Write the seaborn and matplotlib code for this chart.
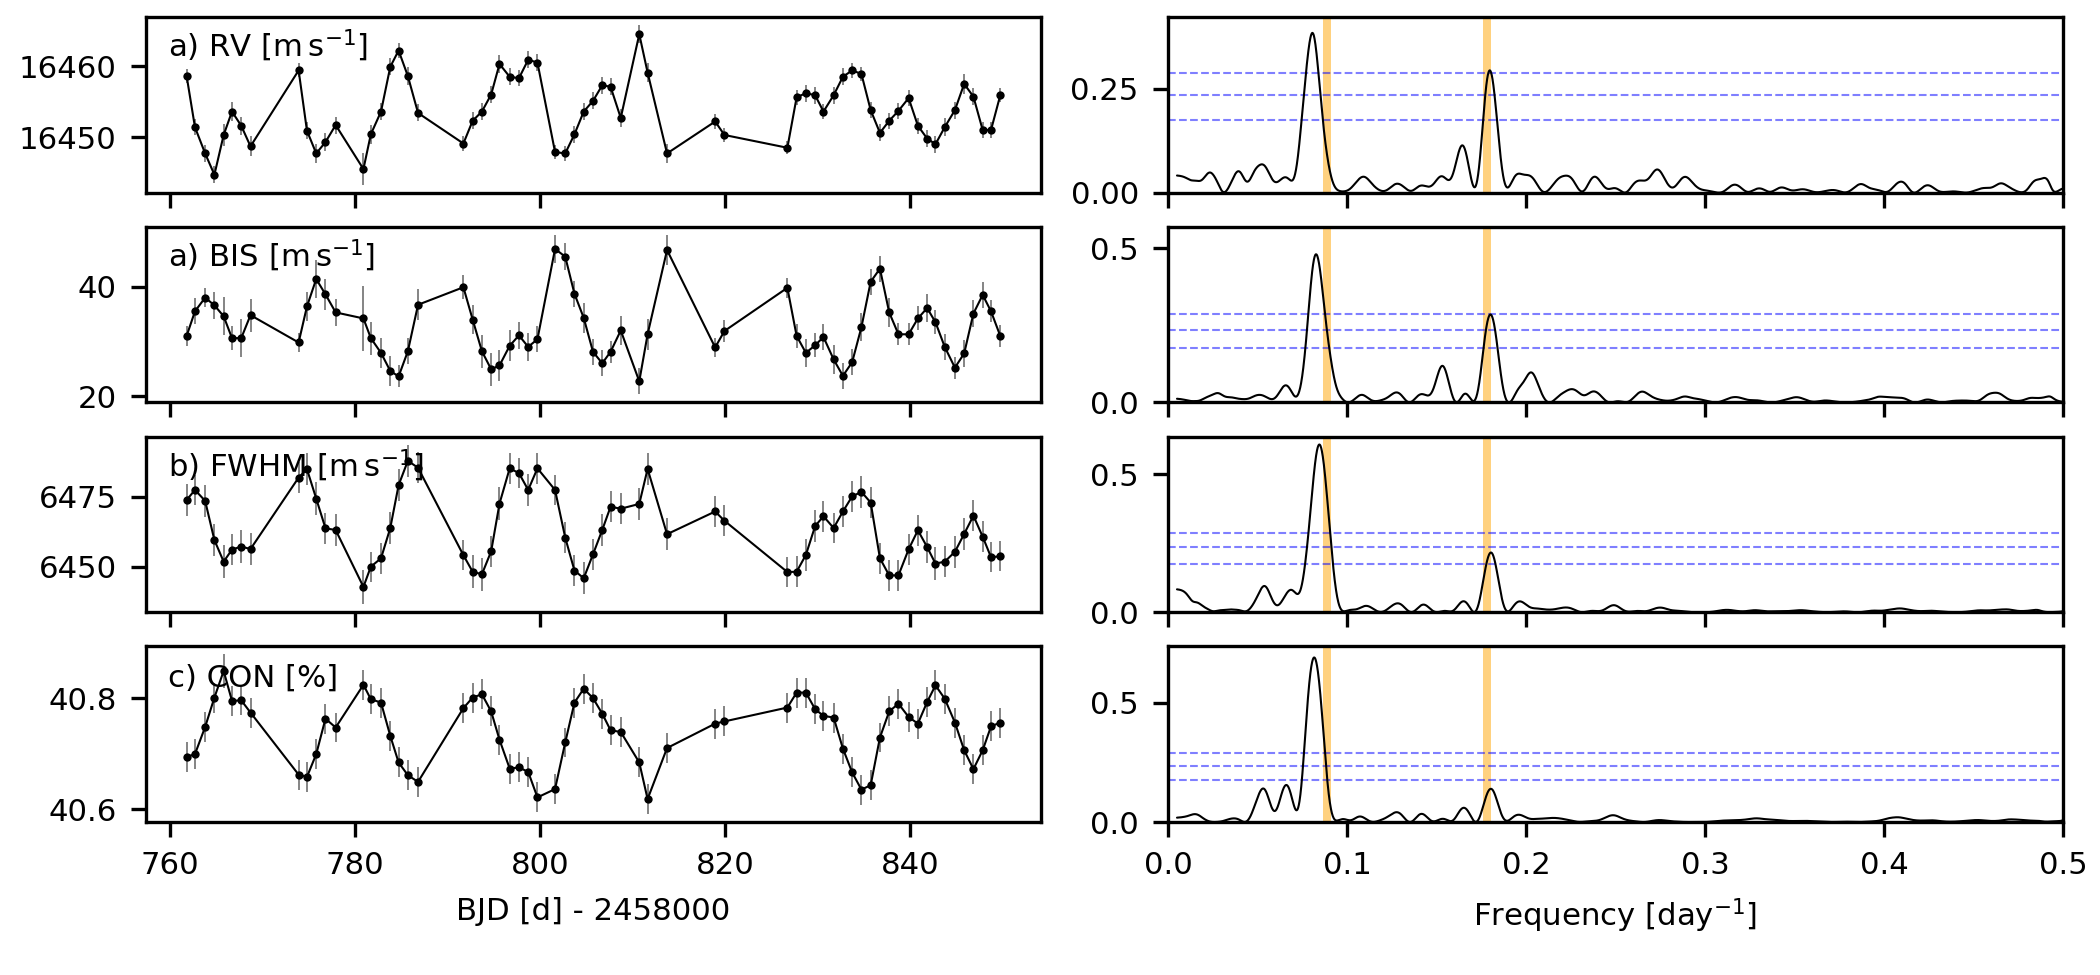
import numpy as np
import pandas as pd
import matplotlib
matplotlib.use("Agg")
import matplotlib.pyplot as plt
import seaborn as sns
from matplotlib.ticker import MultipleLocator

# ---------------- data ----------------
bjd = [761.8, 762.7, 763.8, 764.8, 765.8, 766.7, 767.7, 768.7, 773.9, 774.8,
       775.8, 776.8, 777.9, 780.9, 781.7, 782.8, 783.8, 784.7, 785.7, 786.8,
       791.7, 792.7, 793.7, 794.7, 795.6, 796.7, 797.7, 798.7, 799.7, 801.6,
       802.7, 803.7, 804.7, 805.7, 806.7, 807.6, 808.7, 810.7, 811.6, 813.7,
       818.9, 819.9, 826.7, 827.7, 828.7, 829.7, 830.6, 831.7, 832.7, 833.7,
       834.7, 835.7, 836.7, 837.7, 838.7, 839.8, 840.8, 841.8, 842.7, 843.7,
       844.8, 845.8, 846.8, 847.8, 848.7, 849.7]

rv = [16458.6, 16451.4, 16447.7, 16444.7, 16450.3, 16453.6, 16451.6, 16448.7, 16459.4, 16450.9,
      16447.7, 16449.3, 16451.7, 16445.5, 16450.4, 16453.6, 16459.9, 16462.2, 16458.6, 16453.4,
      16449.1, 16452.3, 16453.6, 16456.0, 16460.3, 16458.5, 16458.3, 16460.9, 16460.5, 16447.9,
      16447.7, 16450.4, 16453.6, 16455.1, 16457.3, 16457.1, 16452.7, 16464.5, 16459.1, 16447.7,
      16452.2, 16450.3, 16448.5, 16455.6, 16456.2, 16455.9, 16453.6, 16455.9, 16458.5, 16459.4,
      16458.9, 16453.8, 16450.6, 16452.3, 16453.7, 16455.5, 16451.6, 16449.8, 16449.0, 16451.4,
      16453.8, 16457.5, 16455.7, 16451.0, 16451.0, 16455.9]
rv_err = [1.0, 1.1, 1.2, 1.2, 1.5, 1.3, 1.3, 1.4, 1.0, 1.2,
          1.3, 1.3, 1.2, 2.2, 1.3, 1.2, 1.2, 1.1, 1.3, 1.2,
          1.0, 1.2, 1.2, 1.2, 1.3, 1.2, 1.1, 1.2, 1.2, 1.0,
          1.1, 1.2, 1.2, 1.2, 1.2, 1.2, 1.3, 1.3, 1.4, 1.3,
          1.0, 1.0, 0.9, 1.1, 1.2, 1.2, 1.0, 1.2, 1.2, 1.1,
          1.0, 1.1, 1.2, 1.1, 1.1, 1.1, 1.1, 1.2, 1.2, 1.3,
          1.2, 1.4, 1.2, 1.1, 1.1, 1.0]

bis = [31.0, 35.5, 38.0, 36.6, 34.6, 30.6, 30.6, 34.8, 29.8, 36.4,
       41.4, 38.6, 35.3, 34.2, 30.6, 27.9, 24.6, 23.6, 28.2, 36.7,
       39.9, 34.0, 28.2, 24.9, 25.6, 29.2, 31.1, 29.0, 30.4, 46.9,
       45.5, 38.7, 34.3, 28.1, 26.0, 28.1, 32.0, 22.7, 31.3, 46.7,
       28.9, 31.9, 39.8, 31.0, 27.9, 29.3, 30.8, 26.7, 23.7, 26.2,
       32.6, 40.9, 43.3, 35.3, 31.3, 31.3, 34.2, 36.1, 33.5, 29.0,
       25.2, 27.8, 35.1, 38.5, 35.5, 31.0]
bis_err = [1.8, 2.4, 1.8, 2.5, 3.5, 2.2, 3.5, 3.0, 1.8, 2.6,
           3.4, 2.8, 2.4, 6.0, 3.0, 2.8, 2.8, 2.0, 2.4, 2.8,
           2.2, 2.6, 3.0, 3.0, 2.8, 2.8, 2.4, 2.6, 2.4, 2.5,
           2.5, 2.4, 2.8, 2.4, 2.4, 2.0, 2.6, 2.4, 2.8, 2.8,
           1.8, 2.0, 1.8, 2.2, 2.6, 2.2, 2.4, 2.6, 2.4, 2.4,
           2.6, 2.4, 2.4, 2.6, 2.0, 2.0, 2.2, 2.6, 2.2, 2.4,
           2.0, 2.4, 2.4, 2.4, 2.0, 2.0]

fwhm = [6473.9, 6477.5, 6473.6, 6459.6, 6451.9, 6456.2, 6457.3, 6456.4, 6481.9, 6484.9,
        6474.4, 6463.8, 6463.2, 6442.9, 6450.1, 6453.1, 6463.9, 6479.2, 6487.9, 6485.4,
        6454.2, 6448.3, 6447.4, 6455.6, 6472.6, 6485.2, 6483.5, 6477.5, 6485.2, 6477.5,
        6460.5, 6448.7, 6446.0, 6454.5, 6463.2, 6471.5, 6470.8, 6472.5, 6485.0, 6461.7,
        6469.8, 6466.5, 6448.2, 6448.3, 6454.3, 6464.6, 6468.1, 6463.9, 6469.8, 6475.2,
        6476.8, 6473.0, 6453.1, 6447.0, 6447.0, 6456.3, 6463.1, 6457.1, 6451.2, 6451.9,
        6455.4, 6461.8, 6468.3, 6460.8, 6453.5, 6453.8]
fwhm_err = [5.6, 5.4, 5.6, 5.8, 6.0, 5.6, 5.8, 5.6, 5.6, 5.8,
            5.8, 5.6, 5.6, 6.2, 5.4, 5.6, 5.6, 5.6, 5.8, 5.6,
            5.4, 5.8, 5.8, 5.6, 5.8, 5.6, 5.4, 5.6, 5.6, 5.4,
            5.6, 5.6, 5.8, 5.6, 5.6, 5.6, 5.6, 5.6, 5.8, 5.8,
            5.4, 5.6, 5.4, 5.6, 5.6, 5.6, 5.6, 5.4, 5.6, 5.6,
            5.6, 5.6, 5.6, 5.6, 5.6, 5.6, 5.6, 5.6, 5.8, 5.6,
            5.6, 5.6, 5.6, 5.6, 5.4, 5.4]

con = [40.694, 40.699, 40.748, 40.801, 40.849, 40.795, 40.796, 40.774, 40.662, 40.658,
       40.699, 40.763, 40.747, 40.824, 40.798, 40.792, 40.732, 40.684, 40.661, 40.649,
       40.782, 40.801, 40.807, 40.776, 40.725, 40.673, 40.675, 40.667, 40.621, 40.636,
       40.720, 40.792, 40.817, 40.800, 40.772, 40.742, 40.739, 40.684, 40.618, 40.710,
       40.754, 40.758, 40.783, 40.810, 40.810, 40.780, 40.768, 40.765, 40.709, 40.666,
       40.635, 40.643, 40.729, 40.776, 40.790, 40.766, 40.754, 40.793, 40.823, 40.799,
       40.756, 40.706, 40.672, 40.706, 40.749, 40.756]
con_err = [0.027, 0.027, 0.027, 0.027, 0.030, 0.027, 0.027, 0.027, 0.027, 0.027,
           0.027, 0.027, 0.027, 0.027, 0.027, 0.027, 0.027, 0.027, 0.027, 0.027,
           0.027, 0.027, 0.027, 0.027, 0.027, 0.027, 0.027, 0.027, 0.027, 0.027,
           0.027, 0.027, 0.027, 0.027, 0.027, 0.027, 0.027, 0.027, 0.027, 0.027,
           0.027, 0.027, 0.027, 0.027, 0.027, 0.027, 0.027, 0.027, 0.027, 0.027,
           0.027, 0.027, 0.027, 0.027, 0.027, 0.027, 0.027, 0.027, 0.027, 0.027,
           0.027, 0.027, 0.027, 0.027, 0.027, 0.027]

labels = [r"a) RV [$\mathrm{m\,s^{-1}}$]", r"a) BIS [$\mathrm{m\,s^{-1}}$]",
          r"b) FWHM [$\mathrm{m\,s^{-1}}$]", "c) CON [%]"]

left_tick_step = [10, 20, 25, 0.2]
right_tick_step = [0.25, 0.5, 0.5, 0.5]
power_axis_top = [0.422, 0.569, 0.637, 0.737]

fap_levels = [0.288, 0.235, 0.175]            # false-alarm-probability levels
bands = [(0.0868, 0.0912), (0.1761, 0.1806)]  # highlighted frequencies
freq_min, freq_max = 0.005, 0.5


# ---------------- generalised Lomb-Scargle of the series ----------------
def gls(t, y, e, f):
    t = np.asarray(t); y = np.asarray(y); e = np.asarray(e)
    w = 1.0 / e**2
    w = w / w.sum()
    arg = 2 * np.pi * np.outer(f, t)
    c = np.cos(arg); s = np.sin(arg)
    Y = (w * y).sum()
    C = c @ w; S = s @ w
    YY = (w * y * y).sum() - Y * Y
    YC = c @ (w * y) - Y * C
    YS = s @ (w * y) - Y * S
    CC = (c * c) @ w - C * C
    SS = (s * s) @ w - S * S
    CS = (c * s) @ w - C * S
    D = CC * SS - CS**2
    return (SS * YC**2 + CC * YS**2 - 2 * CS * YC * YS) / (YY * D)


freq = np.linspace(freq_min, freq_max, 4000)
series = [(rv, rv_err), (bis, bis_err), (fwhm, fwhm_err), (con, con_err)]

# ---------------- style ----------------
sns.set_style("ticks")
plt.rcParams.update({
    "font.family": ["DejaVu Sans"],
    "font.size": 7.4,
    "axes.edgecolor": "black",
    "axes.linewidth": 0.8,
    "xtick.color": "black",
    "ytick.color": "black",
    "text.color": "black",
    "axes.labelcolor": "black",
    "xtick.major.size": 3.5,
    "ytick.major.size": 3.5,
    "xtick.major.width": 0.8,
    "ytick.major.width": 0.8,
    "xtick.major.pad": 3.5,
    "ytick.major.pad": 3.5,
    "axes.labelpad": 4.0,
    "mathtext.fontset": "dejavusans",
})

fig, axes = plt.subplots(4, 2, figsize=(7.0, 3.25), dpi=300, sharex="col")
fig.subplots_adjust(left=0.0695, right=0.9824, top=0.9826, bottom=0.1569,
                    wspace=0.142, hspace=0.194)

for i, ((vals, errs), lab) in enumerate(zip(series, labels)):
    ax = axes[i, 0]
    df = pd.DataFrame({"t": bjd, "v": vals, "e": errs})
    ax.errorbar(df["t"], df["v"], yerr=df["e"], fmt="none", ecolor="gray",
                elinewidth=0.45, zorder=1)
    sns.lineplot(data=df, x="t", y="v", ax=ax, color="black", lw=0.5,
                 marker="o", markersize=2.0, markeredgewidth=0,
                 markerfacecolor="black", sort=False, estimator=None, zorder=2)
    ax.yaxis.set_major_locator(MultipleLocator(left_tick_step[i]))
    ax.xaxis.set_major_locator(MultipleLocator(20))
    ax.set_xlabel("")
    ax.set_ylabel("")
    ax.text(0.025, 0.77, lab, transform=ax.transAxes, ha="left", va="baseline")

    # periodogram
    axp = axes[i, 1]
    power = gls(bjd, vals, errs, freq)
    pdf = pd.DataFrame({"f": freq, "p": power})
    for lo, hi in bands:
        axp.axvspan(lo, hi, color="orange", alpha=0.5, lw=0, zorder=1)
    for lev in fap_levels:
        axp.axhline(lev, color="blue", alpha=0.5, ls="--", lw=0.5, zorder=1)
    sns.lineplot(data=pdf, x="f", y="p", ax=axp, color="black", lw=0.5,
                 estimator=None, sort=False, zorder=3)
    axp.set_xlim(0, 0.5)
    axp.set_ylim(0, power_axis_top[i])
    axp.yaxis.set_major_locator(MultipleLocator(right_tick_step[i]))
    axp.xaxis.set_major_locator(MultipleLocator(0.1))
    axp.set_xlabel("")
    axp.set_ylabel("")

axes[3, 0].set_xlabel("BJD [d] - 2458000")
axes[3, 1].set_xlabel(r"Frequency [day$^{-1}$]")

fig.savefig("out.png", dpi=300)
